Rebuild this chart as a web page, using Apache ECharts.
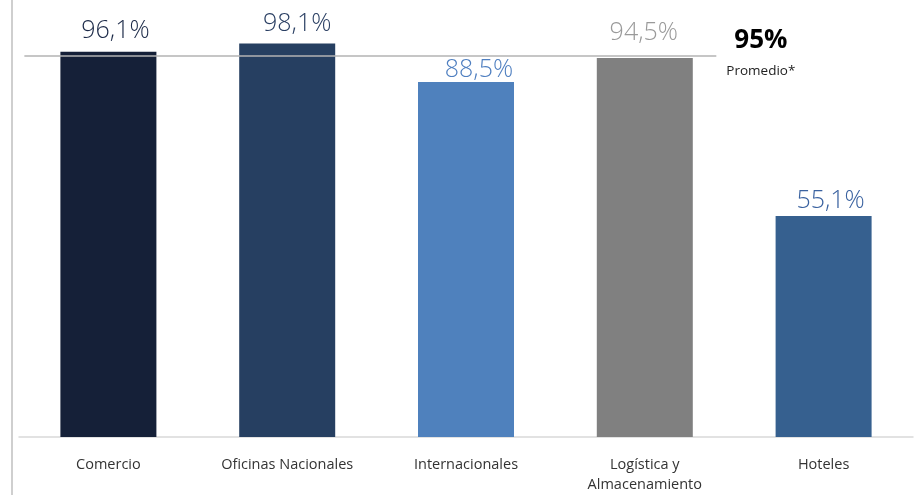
<!DOCTYPE html>
<html><head><meta charset="utf-8">
<script src="https://cdn.jsdelivr.net/npm/echarts@6/dist/echarts.min.js"></script>
<style>html,body{margin:0;padding:0;background:#fff}#c{width:917px;height:495px}</style>
</head><body><div id="c"></div>
<script>
const categories = ['Comercio', 'Oficinas Nacionales', 'Internacionales', 'Logística y\nAlmacenamiento', 'Hoteles'];
const values = [96.1, 98.1, 88.5, 94.5, 55.1];
const average = 95;

// styling (not data)
const barColors = ['#152038', '#263f61', '#4f81bd', '#808080', '#36608f'];
const labelColors = ['#1c2a48', '#2a3f63', '#4f7fc0', '#9a9a9a', '#3a62a0'];
const labelShiftX = [7, 10, 13, -1, 7];
const labelGap = [8, 7.5, 0, 13, 3];
const averageSpan = [0.03, 3.9]; // extent of the average line along the category band axis

const chart = echarts.init(document.getElementById('c'));
chart.setOption({
  animation: false,
  grid: { left: 19, right: 4, top: 36, bottom: 51 },
  xAxis: [{
    type: 'category', data: categories,
    axisLine: { lineStyle: { color: '#d9d9d9', width: 1.5 } },
    axisTick: { show: false },
    axisLabel: { color: '#333', fontFamily: 'Open Sans', fontSize: 14.5, margin: 18, lineHeight: 20, interval: 0 }
  }, {
    type: 'value', min: 0, max: categories.length, show: false
  }],
  yAxis: { type: 'value', min: 0, max: 100, show: false },
  graphic: [{
    type: 'line', shape: { x1: 12, y1: 0, x2: 12, y2: 495 },
    style: { stroke: '#bfbfbf', lineWidth: 1.5 }
  }],
  series: [{
    type: 'bar', xAxisIndex: 0, barWidth: 96,
    data: values.map((v, i) => ({
      value: v,
      itemStyle: { color: barColors[i] },
      label: { color: labelColors[i], offset: [labelShiftX[i], 0], distance: labelGap[i] }
    })),
    label: {
      show: true, position: 'top',
      fontFamily: 'Open Sans', fontWeight: 300, fontSize: 25,
      formatter: p => p.value.toFixed(1).replace('.', ',') + '%'
    },
    z: 2
  }, {
    type: 'line', xAxisIndex: 1, symbol: 'none', z: 3,
    lineStyle: { color: '#b3b3b3', width: 1.5 },
    data: averageSpan.map(x => [x, average]),
    endLabel: {
      show: true, distance: 10, offset: [0, -1],
      formatter: () => '{a|' + average + '%}\n{b|Promedio*}',
      rich: {
        a: { fontFamily: 'Open Sans', fontWeight: 'bold', fontSize: 26, color: '#000', lineHeight: 32, padding: [0, 0, 0, 8] },
        b: { fontFamily: 'Open Sans', fontSize: 13.5, color: '#222', lineHeight: 28 }
      }
    }
  }]
});
</script></body></html>
